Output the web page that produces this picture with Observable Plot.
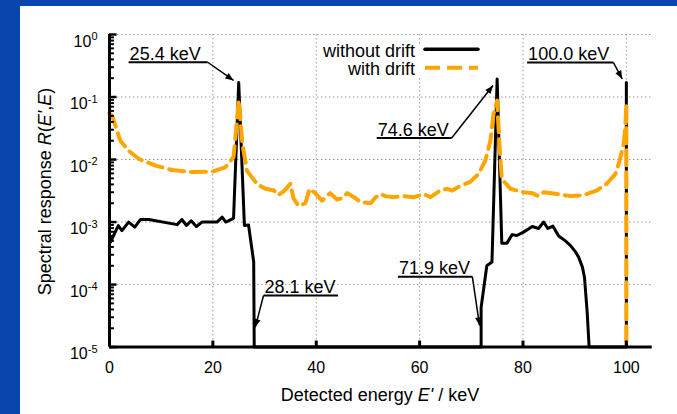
<!DOCTYPE html>
<html><head><meta charset="utf-8">
<script src="https://cdn.jsdelivr.net/npm/d3@7"></script>
<script src="https://cdn.jsdelivr.net/npm/@observablehq/plot@0.6"></script>
<style>
html,body{margin:0;padding:0;background:#fff;width:677px;height:414px;overflow:hidden;position:relative}
#topband{position:absolute;left:0;top:0;width:677px;height:6px;background:#0846ae}
#leftband{position:absolute;left:0;top:0;width:20px;height:414px;background:#0846ae}
#panel{position:absolute;left:20px;top:6px;width:657px;height:408px;background:#fff}
#panel svg{display:block}
</style></head><body><div id="topband"></div><div id="leftband"></div><div id="panel"></div>
<script>
// ---- data ----
const seriesNames = ["without drift", "with drift"];

const withoutDriftE = [0.2, 1.7, 2.4, 3.7, 4.9, 6.0, 7.6, 13.1, 14.0, 14.9, 15.8, 16.8, 17.9, 20.8, 21.8, 22.5, 23.6, 24.0, 25.0, 26.1, 26.9, 27.9, 28.0,
  71.9, 71.9, 73.0, 74.0, 75.0, 75.9, 76.9, 77.9, 78.8, 80.1, 81.8, 83.0, 84.0, 84.8, 85.8, 86.9, 88.2, 89.2, 90.2, 90.8, 91.5, 91.9, 92.4, 92.8, 100, 100];
const withoutDriftR = [4.8e-4, 8.8e-4, 7.3e-4, 1.0e-3, 8.3e-4, 1.1e-3, 1.1e-3, 9.1e-4, 1.1e-3, 8.8e-4, 1.05e-3, 8.5e-4, 1.0e-3, 1.0e-3, 1.2e-3, 1.0e-3, 1.1e-3, 1.15e-3, 0.17, 8.8e-4, 9.0e-4, 2.3e-4, 1e-5,
  1e-5, 4.3e-5, 2.0e-4, 2.3e-4, 0.195, 4.6e-4, 4.6e-4, 6.3e-4, 6.1e-4, 6.9e-4, 8.5e-4, 7.9e-4, 1.0e-3, 7.9e-4, 8.6e-4, 6.0e-4, 5.0e-4, 4.2e-4, 3.3e-4, 2.7e-4, 1.9e-4, 1.3e-4, 3.8e-5, 1e-5, 1e-5, 0.17];

const withDriftE = [0, 0.6, 2.1, 3.7, 5.7, 8.9, 12.1, 16.0, 19.9, 22.4, 24.0, 24.5, 25.0, 25.7, 26.6, 28.6, 30.2, 31.8, 32.7, 33.7,
  35.0, 35.6, 36.6, 37.9, 38.7, 39.8, 41.1, 42.7, 44.0, 45.0, 46.0, 47.3, 48.5, 50.5, 51.5, 52.4, 53.4, 55.0, 56.9, 58.9,
  60.8, 62.1, 64.0, 65.3, 66.3, 67.9, 69.8, 71.4, 72.7, 73.7, 74.3, 75.0, 75.4, 75.9, 77.6, 80.1, 81.8, 83.0, 84.0, 86.6,
  89.2, 91.7, 94.3, 96.2, 97.9, 98.7, 99.5, 99.8, 100, 100];
const withDriftR = [0.055, 0.048, 0.020, 0.0138, 0.0102, 0.0080, 0.0068, 0.0063, 0.0064, 0.0075, 0.011, 0.03, 0.09, 0.018, 0.0066, 0.0040, 0.0034, 0.0032, 0.0027, 0.0031,
  0.0041, 0.0024, 0.0018, 0.0020, 0.0034, 0.0029, 0.0022, 0.0029, 0.0023, 0.0024, 0.0029, 0.0025, 0.0021, 0.0020, 0.0025, 0.0028, 0.0026, 0.0025, 0.0026, 0.0025,
  0.0028, 0.0025, 0.0032, 0.0034, 0.0032, 0.0038, 0.0044, 0.0059, 0.0096, 0.020, 0.054, 0.088, 0.02, 0.0049, 0.0034, 0.0030, 0.0029, 0.0026, 0.0030, 0.0028,
  0.0026, 0.0027, 0.0032, 0.0041, 0.0059, 0.0096, 0.018, 0.033, 0.078, 1e-5];

const xTicks = [0, 20, 40, 60, 80, 100];
const yTicks = [1e-5, 1e-4, 1e-3, 1e-2, 1e-1, 1];

// annotations: label, underline x-range and level, arrow start and tip
const annLabel = ["25.4 keV", "28.1 keV", "71.9 keV", "74.6 keV", "100.0 keV"];
const annX1 = [3.7, 29.8, 55.8, 51.7, 80.8];
const annX2 = [19.0, 44.2, 70.2, 66.2, 97.5];
const annY = [0.36, 6.7e-5, 1.34e-4, 0.0221, 0.356];
const annFromX = [19.0, 29.8, 70.2, 66.2, 97.5];
const annTipX = [24.0, 28.2, 71.6, 74.2, 99.2];
const annTipY = [0.184, 2.07e-5, 2.21e-5, 0.153, 0.195];

// ---- build tables ----
const noDrift = withoutDriftE.map((e, i) => ({E: e, R: withoutDriftR[i]}));
const drift = withDriftE.map((e, i) => ({E: e, R: withDriftR[i]}));
const ann = annLabel.map((t, i) => ({label: t, x1: annX1[i], x2: annX2[i], y: annY[i], fx: annFromX[i], tx: annTipX[i], ty: annTipY[i]}));
const minorY = [];
for (let d = -5; d < 0; d++) for (let k = 2; k <= 9; k++) minorY.push(k * Math.pow(10, d));

const W = 657, H = 408;
const plot = Plot.plot({
  width: W, height: H,
  marginLeft: 89, marginRight: 25.3, marginTop: 28, marginBottom: 67.4,
  style: {fontFamily: "'Liberation Sans', Arial, sans-serif", fontSize: "16px", background: "transparent", color: "#000", overflow: "visible"},
  x: {domain: [0, 105], ticks: xTicks, tickSize: 0, tickPadding: 15, label: null},
  y: {type: "log", domain: [1e-5, 1], ticks: yTicks, tickSize: 0, tickPadding: 12, label: null,
      tickFormat: d => "10^" + Math.round(Math.log10(d))},
  marks: [
    Plot.ruleX(xTicks.filter(t => t > 0), {stroke: "#9a9a9a", strokeWidth: 1, strokeDasharray: "1.5,2.5"}),
    Plot.ruleY(yTicks.filter(t => t > 1e-5), {stroke: "#9a9a9a", strokeWidth: 1, strokeDasharray: "1.5,2.5"}),
    Plot.line(noDrift, {x: "E", y: "R", stroke: "#000", strokeWidth: 3, strokeLinejoin: "round"}),
    Plot.line(drift, {x: "E", y: "R", stroke: "#FFA500", strokeWidth: 4, strokeDasharray: "15,7", strokeLinejoin: "round"}),
    Plot.link(ann, {x1: "x1", x2: "x2", y1: "y", y2: "y", stroke: "#000", strokeWidth: 2}),
    Plot.link(ann, {x1: "fx", y1: "y", x2: "tx", y2: "ty", stroke: "#000", strokeWidth: 1.5, markerEnd: "arrow"}),
    Plot.text(ann, {x: "x1", y: "y", text: "label", textAnchor: "start", lineAnchor: "bottom", dx: 1, dy: -2.5, fontSize: 18, fill: "#000"}),
    // axis frame lines and inward ticks
    Plot.ruleY(minorY, {x1: 0, x2: 0.95, stroke: "#000", strokeWidth: 2}),
    Plot.ruleY(yTicks, {x1: 0, x2: 1.45, stroke: "#000", strokeWidth: 2.5}),
    Plot.ruleX(xTicks, {y1: 1e-5, y2: 1.25e-5, stroke: "#000", strokeWidth: 3}),
    Plot.ruleX([0], {stroke: "#000", strokeWidth: 3}),
    Plot.ruleY([1e-5], {stroke: "#000", strokeWidth: 3})
  ]
});

// filled arrowheads (gnuplot style) replacing the open chevron markers
d3.select(plot).selectAll("marker").each(function() {
  const m = d3.select(this);
  m.attr("markerWidth", 11).attr("markerHeight", 11).attr("overflow", "visible")
   .attr("fill", "#000").attr("stroke", "none");
  m.selectAll("*").remove();
  m.append("path").attr("d", "M-5,-2L0,0L-5,2Z").attr("fill", "#000").attr("stroke", "none");
});

// superscript exponents on the y tick labels
d3.select(plot).selectAll("text").each(function() {
  const m = /^10\^(-?\d+)$/.exec(this.textContent);
  if (m) {
    const s = d3.select(this);
    s.text("10").attr("dy", "0.45em");
    s.append("tspan").attr("dy", "-0.62em").attr("font-size", "11px").text(m[1]);
  }
});

const svg = d3.select(plot);
const font = "'Liberation Sans', Arial, sans-serif";

// legend (opaque key box like the original)
const firstLine = plot.querySelector('[aria-label="line"]');
const keyBox = document.createElementNS("http://www.w3.org/2000/svg", "rect");
keyBox.setAttribute("x", 298); keyBox.setAttribute("y", 38);
keyBox.setAttribute("width", 164); keyBox.setAttribute("height", 33);
keyBox.setAttribute("fill", "#fff");
if (firstLine) firstLine.parentNode.insertBefore(keyBox, firstLine); else plot.appendChild(keyBox);

const key = svg.append("g").attr("font-family", font).attr("font-size", 18);
key.append("text").attr("x", 395).attr("y", 50.5).attr("text-anchor", "end").text(seriesNames[0]);
key.append("text").attr("x", 395).attr("y", 69).attr("text-anchor", "end").text(seriesNames[1]);
key.append("line").attr("x1", 405).attr("x2", 458).attr("y1", 43.3).attr("y2", 43.3).attr("stroke", "#000").attr("stroke-width", 3.5).attr("stroke-linecap", "round");
key.append("line").attr("x1", 405).attr("x2", 458).attr("y1", 61.7).attr("y2", 61.7).attr("stroke", "#FFA500").attr("stroke-width", 4).attr("stroke-dasharray", "15,7");

// axis titles
const xl = svg.append("text").attr("x", 360).attr("y", 395).attr("text-anchor", "middle")
  .attr("font-family", font).attr("font-size", 18);
xl.append("tspan").text("Detected energy ");
xl.append("tspan").attr("font-style", "italic").text("E'");
xl.append("tspan").text(" / keV");

const yl = svg.append("text").attr("transform", "translate(30.5,185.5) rotate(-90)").attr("text-anchor", "middle")
  .attr("font-family", font).attr("font-size", 18);
yl.append("tspan").text("Spectral response ");
yl.append("tspan").attr("font-style", "italic").text("R");
yl.append("tspan").text("(");
yl.append("tspan").attr("font-style", "italic").text("E'");
yl.append("tspan").text(",");
yl.append("tspan").attr("font-style", "italic").text("E");
yl.append("tspan").text(")");

document.getElementById("panel").appendChild(plot);
</script>
</body></html>
